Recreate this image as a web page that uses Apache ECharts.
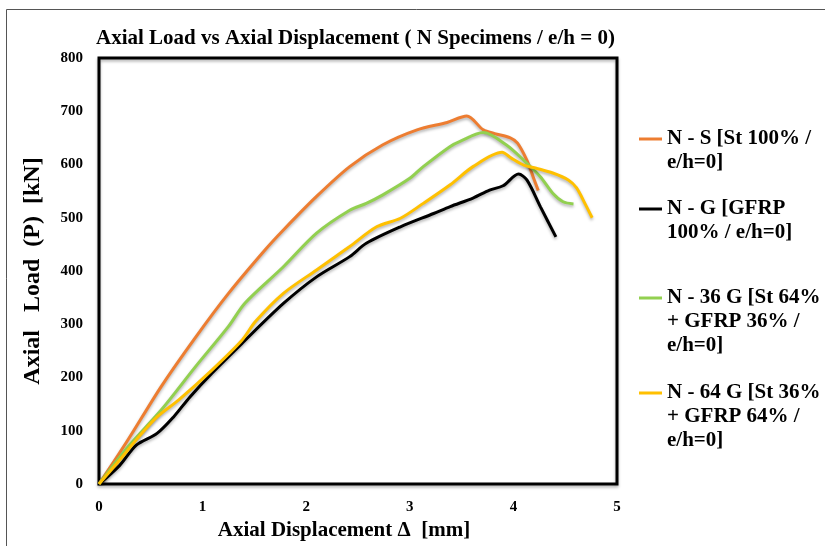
<!DOCTYPE html>
<html>
<head>
<meta charset="utf-8">
<title>Axial Load vs Axial Displacement</title>
<script src="https://cdn.jsdelivr.net/npm/echarts@6/dist/echarts.min.js"></script>
<style>
  html, body { margin: 0; padding: 0; background: #fff; }
  #chart1 { width: 825px; height: 546px; }
</style>
</head>
<body>
<div id="chart1"></div>
<script>
// 曲线数据 (位移 mm / 荷载 kN)
var nsX = [0, 0.28, 0.60, 0.93, 1.25, 1.60, 1.78, 2.10, 2.42, 2.74, 3.07, 3.36, 3.55, 3.71, 3.82, 3.97, 4.04, 4.13, 4.19, 4.24];
var nsY = [0, 83, 183, 275, 358, 439, 477, 540, 596, 637, 665, 679, 691, 665, 658, 650, 640, 608, 577, 551];

var ngX = [0, 0.20, 0.36, 0.56, 0.72, 0.88, 1.09, 1.38, 1.78, 2.10, 2.42, 2.58, 2.91, 3.23, 3.39, 3.61, 3.77, 3.90, 4.05, 4.13, 4.26, 4.41];
var ngY = [0, 35, 73, 95, 126, 164, 208, 264, 339, 389, 427, 452, 483, 508, 521, 537, 552, 560, 582, 571, 521, 464];

var n36X = [0, 0.28, 0.60, 0.93, 1.25, 1.41, 1.78, 2.10, 2.42, 2.58, 2.74, 3.00, 3.13, 3.39, 3.48, 3.71, 3.93, 4.10, 4.26, 4.38, 4.48, 4.58];
var n36Y = [0, 70, 139, 220, 296, 340, 408, 471, 514, 527, 543, 574, 596, 634, 643, 660, 637, 608, 577, 546, 530, 526];

var n64X = [0, 0.20, 0.36, 0.56, 0.77, 1.09, 1.38, 1.51, 1.78, 2.10, 2.42, 2.68, 2.91, 3.13, 3.39, 3.61, 3.89, 3.98, 4.10, 4.22, 4.38, 4.53, 4.61, 4.69, 4.76];
var n64Y = [0, 45, 83, 126, 158, 214, 270, 305, 358, 402, 446, 483, 499, 527, 562, 596, 623, 612, 599, 593, 584, 571, 556, 527, 500];

var xTicks = [0, 1, 2, 3, 4, 5];
var yTicks = [0, 100, 200, 300, 400, 500, 600, 700, 800];

var seriesNames = [
    'N - S [St 100% /\ne/h=0]',
    'N - G [GFRP\n100% / e/h=0]',
    'N - 36 G [St 64%\n+ GFRP 36% /\ne/h=0]',
    'N - 64 G [St 36%\n+ GFRP 64% /\ne/h=0]'
];
var seriesColors = ['#ED7D31', '#000000', '#92D050', '#FFC000'];
var legendIconY = [139, 209, 298, 393];

var fontFam = '"Liberation Serif", "Times New Roman", serif';
var lineH = 24;

function pairs(xs, ys) {
    var out = [];
    for (var i = 0; i < xs.length; i++) {
        out.push([xs[i], ys[i]]);
    }
    return out;
}

// 图例线段放在第一行文字的高度
function legendIcon(n) {
    var h = n * lineH;
    var c = lineH / 2;
    return 'path://M0,0L0,0M0,' + (c - 1.5) + 'L23,' + (c - 1.5) + 'L23,' + (c + 1.5) + 'L0,' + (c + 1.5) + 'ZM23,' + h + 'L23,' + h;
}

var dataList = [pairs(nsX, nsY), pairs(ngX, ngY), pairs(n36X, n36Y), pairs(n64X, n64Y)];

var series = [];
var legends = [];
for (var i = 0; i < seriesNames.length; i++) {
    series.push({
        name: seriesNames[i],
        type: 'line',
        smooth: 0.3,
        symbol: 'none',
        data: dataList[i],
        lineStyle: {
            color: seriesColors[i],
            width: 3,
            shadowColor: 'rgba(0,0,0,0.3)',
            shadowBlur: 3,
            shadowOffsetY: 2
        },
        itemStyle: { color: seriesColors[i] }
    });
    var n = seriesNames[i].split('\n').length;
    legends.push({
        orient: 'vertical',
        left: 639,
        top: legendIconY[i] - lineH / 2,
        padding: 0,
        itemWidth: 23,
        itemHeight: n * lineH,
        icon: legendIcon(n),
        data: [seriesNames[i]],
        textStyle: {
            fontFamily: fontFam,
            fontWeight: 'bold',
            fontSize: 21,
            lineHeight: lineH,
            color: '#000'
        }
    });
}

var myChart = echarts.init(document.getElementById('chart1'));
var option = {
    backgroundColor: '#fff',
    animation: false,
    title: {
        text: 'Axial Load vs Axial Displacement ( N Specimens / e/h = 0)',
        left: 96,
        top: 28,
        padding: 0,
        textStyle: {
            fontFamily: fontFam,
            fontWeight: 'bold',
            fontSize: 21,
            color: '#000'
        }
    },
    legend: legends,
    grid: {
        left: 99,
        right: 208,
        top: 58,
        bottom: 62,
        show: true,
        borderColor: '#000',
        borderWidth: 3,
        shadowColor: 'rgba(0,0,0,0.3)',
        shadowBlur: 3,
        shadowOffsetY: 2
    },
    xAxis: {
        type: 'value',
        min: xTicks[0],
        max: xTicks[xTicks.length - 1],
        interval: 1,
        name: 'Axial Displacement \u0394  [mm]',
        nameLocation: 'middle',
        nameGap: 33,
        nameTextStyle: {
            fontFamily: fontFam,
            fontWeight: 'bold',
            fontSize: 21,
            color: '#000',
            padding: [0, 28, 0, 0]
        },
        axisLine: { show: false },
        axisTick: { show: false },
        splitLine: { show: false },
        axisLabel: {
            margin: 16,
            fontFamily: fontFam,
            fontWeight: 'bold',
            fontSize: 15,
            color: '#000'
        }
    },
    yAxis: {
        type: 'value',
        min: yTicks[0],
        max: yTicks[yTicks.length - 1],
        interval: 100,
        name: 'Axial   Load  (P)  [kN]',
        nameLocation: 'middle',
        nameGap: 54,
        nameTextStyle: {
            fontFamily: fontFam,
            fontWeight: 'bold',
            fontSize: 24,
            color: '#000'
        },
        axisLine: { show: false },
        axisTick: { show: false },
        splitLine: { show: false },
        axisLabel: {
            margin: 16,
            fontFamily: fontFam,
            fontWeight: 'bold',
            fontSize: 15,
            color: '#000'
        }
    },
    graphic: [{
        type: 'rect',
        shape: { x: 6.5, y: 9.5, width: 900, height: 700 },
        style: { fill: null, stroke: '#555', lineWidth: 1 },
        silent: true
    }],
    series: series
};
myChart.setOption(option);
</script>
</body>
</html>
